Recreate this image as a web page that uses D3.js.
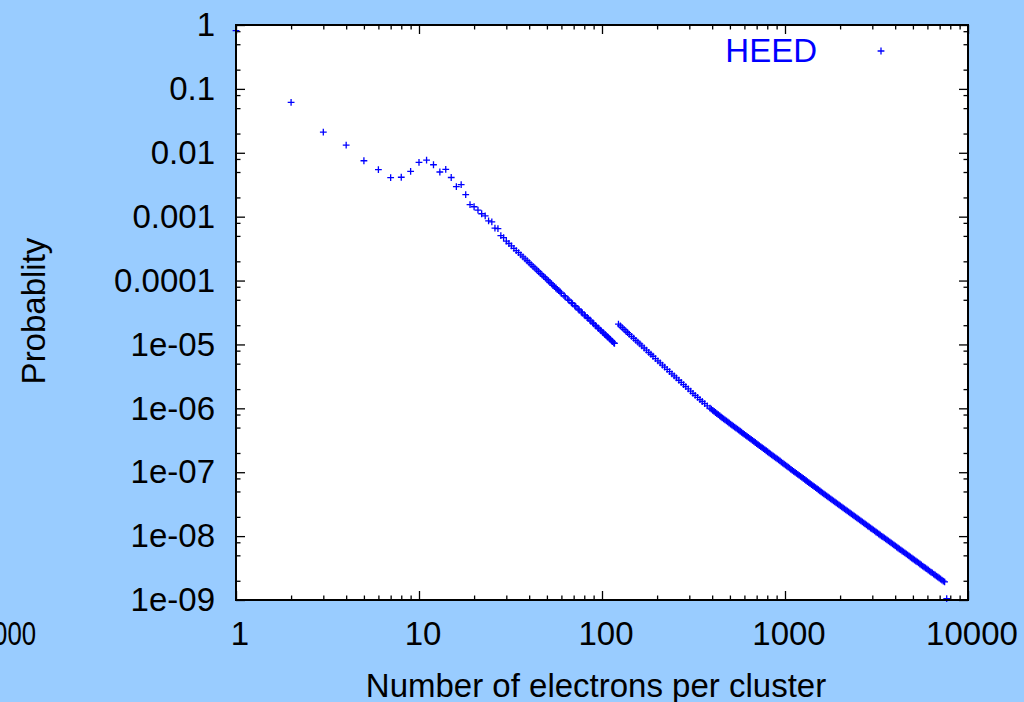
<!DOCTYPE html>
<html>
<head>
<meta charset="utf-8">
<script src="https://cdn.jsdelivr.net/npm/d3@7"></script>
<style>
  html, body { margin: 0; padding: 0; background: #99ccff; }
  svg { display: block; }
  text { font-family: "Liberation Sans", Arial, Helvetica, sans-serif; }
</style>
</head>
<body>
<svg id="chart" width="1024" height="702"></svg>
<script>
// ---- Data ----
const seriesName = "HEED";
const xLabel = "Number of electrons per cluster";
const yLabel = "Probablity";

const xTickValues = [1, 10, 100, 1000, 10000];
const xTickLabels = ["1", "10", "100", "1000", "10000"];
const yTickValues = [1e-9, 1e-8, 1e-7, 1e-6, 1e-5, 1e-4, 1e-3, 1e-2, 1e-1, 1];
const yTickLabels = ["1e-09", "1e-08", "1e-07", "1e-06", "1e-05", "0.0001", "0.001", "0.01", "0.1", "1"];
const xMinorMantissas = [2, 3, 4, 5, 6, 7, 8, 9];
const yMinorMantissas = [2, 5, 8];

// low-n branch (up to the step near 120 electrons)
const lowX = [1, 2, 3, 4, 5, 6, 7, 8, 9, 10, 11, 12, 13, 14, 15, 16, 17, 18, 19, 20,
  21, 22, 23, 24, 25, 26, 27, 28, 29, 30, 31, 32, 33, 34, 35, 36, 37, 38, 39, 40,
  41, 42, 43, 44, 45, 46, 47, 48, 49, 50, 51, 52, 53, 54, 55, 56, 57, 58, 59, 60,
  62, 63, 65, 66, 68, 69, 71, 72, 74, 75, 77, 78, 80, 81, 83, 84, 86, 87, 89, 90,
  92, 93, 95, 96, 98, 99, 101, 102, 104, 105, 107, 108, 110, 111, 113, 114, 116, 117];
const lowY = [0.815, 0.0617, 0.021, 0.0132, 0.0075, 0.00544, 0.00407, 0.00414, 0.00513, 0.0071,
  0.0077, 0.0065, 0.0050, 0.0055, 0.0041, 0.00295, 0.00317, 0.00221, 0.00154, 0.00143,
  0.00127, 0.00111, 0.00103, 0.000857, 0.00083, 0.00066, 0.000649, 0.000505, 0.000470, 0.000414,
  0.000380, 0.000348, 0.000320, 0.000295, 0.000273, 0.000253, 0.000235, 0.000218, 0.000204, 0.000190,
  1.78e-4, 1.66e-4, 1.565e-4, 1.47e-4, 1.385e-4, 1.30e-4, 1.23e-4, 1.16e-4, 1.10e-4, 1.04e-4,
  9.87e-5, 9.33e-5, 8.88e-5, 8.43e-5, 8.04e-5, 7.64e-5, 7.30e-5, 6.95e-5, 6.64e-5, 6.33e-5,
  5.81e-5, 5.55e-5, 5.11e-5, 4.89e-5, 4.52e-5, 4.34e-5, 4.03e-5, 3.87e-5, 3.60e-5, 3.46e-5,
  3.23e-5, 3.11e-5, 2.91e-5, 2.81e-5, 2.64e-5, 2.55e-5, 2.40e-5, 2.32e-5, 2.18e-5, 2.11e-5,
  1.99e-5, 1.93e-5, 1.82e-5, 1.77e-5, 1.68e-5, 1.63e-5, 1.54e-5, 1.50e-5, 1.43e-5, 1.39e-5,
  1.32e-5, 1.29e-5, 1.23e-5, 1.20e-5, 1.14e-5, 1.11e-5, 1.06e-5, 1.04e-5];

// high-n branch (after the step)
const highX = [123, 126, 129, 132, 135, 138, 141, 145, 149, 153, 157, 161, 165, 170, 175, 180, 185, 190,
  196, 202, 208, 214, 220, 227, 234, 241, 248, 255, 263, 271, 279, 287, 296, 305, 314, 323, 333,
  343, 353, 364, 376,
  389, 396, 403, 410, 417, 424, 432, 440, 447, 454, 462, 470, 479, 487, 495, 504, 513, 522, 531, 540,
  550, 559, 569, 579, 589, 599, 610, 620, 631, 642, 653, 664, 676, 688, 700, 712, 724, 737,
  750, 763, 776, 790, 804, 818, 832, 846, 861, 876, 891, 907, 923, 939, 955, 972, 989, 1006,
  1023, 1041, 1059, 1077, 1096, 1115, 1135, 1155, 1175, 1195, 1216, 1237, 1259, 1281, 1303, 1326,
  1349, 1372, 1396, 1420, 1445, 1470, 1496, 1522, 1549, 1576, 1603, 1631, 1660, 1689, 1718, 1748,
  1778, 1809, 1841, 1873, 1905, 1938, 1972, 2007, 2042, 2077, 2113, 2150, 2188, 2226, 2265, 2304,
  2344, 2385, 2427, 2469, 2512, 2556, 2600, 2646, 2692, 2739, 2786, 2835, 2884, 2934, 2985, 3037,
  3090, 3144, 3199, 3255, 3311, 3369, 3428, 3488, 3548, 3610, 3673, 3737, 3802, 3869, 3936, 4005,
  4074, 4145, 4217, 4291, 4365, 4442, 4519, 4598, 4677, 4759, 4842, 4927, 5012, 5100, 5188, 5279,
  5370, 5464, 5559, 5656, 5754, 5855, 5957, 6061, 6166, 6274, 6383, 6495, 6607, 6723, 6839, 6959,
  7079, 7203, 7328, 7450];
const highY = [2.08e-5, 1.95e-5, 1.83e-5, 1.72e-5, 1.62e-5, 1.53e-5, 1.44e-5, 1.34e-5, 1.25e-5, 1.16e-5,
  1.09e-5, 1.02e-5, 9.51e-6, 8.79e-6, 8.13e-6, 7.54e-6, 7.02e-6, 6.53e-6, 6.02e-6, 5.55e-6,
  5.14e-6, 4.76e-6, 4.43e-6, 4.07e-6, 3.76e-6, 3.47e-6, 3.22e-6, 2.99e-6, 2.75e-6, 2.54e-6,
  2.35e-6, 2.18e-6, 2.01e-6, 1.86e-6, 1.72e-6, 1.60e-6, 1.48e-6, 1.37e-6, 1.28e-6, 1.185e-6, 1.09e-6,
  1.01e-6, 9.70e-7, 9.31e-7, 8.96e-7, 8.60e-7, 8.27e-7, 7.95e-7, 7.66e-7, 7.36e-7, 7.10e-7,
  6.83e-7, 6.59e-7, 6.35e-7, 6.12e-7, 5.89e-7, 5.68e-7, 5.47e-7, 5.27e-7, 5.08e-7, 4.90e-7,
  4.72e-7, 4.55e-7, 4.38e-7, 4.22e-7, 4.07e-7, 3.92e-7, 3.78e-7, 3.64e-7, 3.51e-7, 3.38e-7,
  3.26e-7, 3.14e-7, 3.03e-7, 2.92e-7, 2.81e-7, 2.71e-7, 2.61e-7, 2.52e-7,
  2.43e-7, 2.34e-7, 2.25e-7, 2.17e-7, 2.09e-7, 2.01e-7, 1.94e-7, 1.87e-7, 1.80e-7, 1.74e-7,
  1.68e-7, 1.62e-7, 1.56e-7, 1.50e-7, 1.44e-7, 1.39e-7, 1.34e-7, 1.29e-7,
  1.25e-7, 1.20e-7, 1.16e-7, 1.11e-7, 1.07e-7, 1.03e-7, 9.98e-8, 9.62e-8, 9.27e-8, 8.94e-8,
  8.61e-8, 8.30e-8, 7.99e-8, 7.70e-8, 7.42e-8, 7.15e-8,
  6.89e-8, 6.64e-8, 6.40e-8, 6.17e-8, 5.95e-8, 5.73e-8, 5.52e-8, 5.32e-8, 5.13e-8, 4.94e-8,
  4.76e-8, 4.59e-8, 4.42e-8, 4.26e-8, 4.11e-8, 3.97e-8,
  3.83e-8, 3.69e-8, 3.56e-8, 3.43e-8, 3.31e-8, 3.19e-8, 3.08e-8, 2.97e-8, 2.87e-8, 2.77e-8,
  2.67e-8, 2.57e-8, 2.48e-8, 2.39e-8, 2.31e-8, 2.23e-8,
  2.15e-8, 2.07e-8, 2.00e-8, 1.93e-8, 1.86e-8, 1.79e-8, 1.73e-8, 1.67e-8, 1.61e-8, 1.55e-8,
  1.50e-8, 1.44e-8, 1.39e-8, 1.34e-8, 1.30e-8, 1.25e-8,
  1.21e-8, 1.16e-8, 1.12e-8, 1.08e-8, 1.04e-8, 1.00e-8, 9.70e-9, 9.36e-9, 9.03e-9, 8.71e-9,
  8.40e-9, 8.10e-9, 7.81e-9, 7.54e-9, 7.27e-9, 7.01e-9,
  6.76e-9, 6.52e-9, 6.29e-9, 6.07e-9, 5.85e-9, 5.65e-9, 5.45e-9, 5.26e-9, 5.07e-9, 4.89e-9,
  4.71e-9, 4.54e-9, 4.38e-9, 4.23e-9, 4.08e-9, 3.94e-9,
  3.80e-9, 3.66e-9, 3.53e-9, 3.40e-9, 3.28e-9, 3.17e-9, 3.06e-9, 2.95e-9, 2.84e-9, 2.74e-9,
  2.65e-9, 2.55e-9, 2.46e-9, 2.37e-9, 2.29e-9, 2.21e-9,
  2.13e-9, 2.05e-9, 1.98e-9, 1.92e-9];

// isolated last point at the bottom edge
const tailX = [7650];
const tailY = [1.05e-9];

// stray clipped label at the far left of the picture
const strayLabel = "10000";

// ---- Drawing ----
const svg = d3.select("#chart");
const W = 1024, H = 702;
const plot = { left: 236, right: 968, top: 25, bottom: 600 };
const FONT = 33;

svg.append("rect").attr("x", 0).attr("y", 0).attr("width", W).attr("height", H).attr("fill", "#99ccff");

const x = d3.scaleLog().domain([1, 10000]).range([plot.left, plot.right]);
const y = d3.scaleLog().domain([1e-9, 1]).range([plot.bottom, plot.top]);

svg.append("rect")
  .attr("x", plot.left).attr("y", plot.top)
  .attr("width", plot.right - plot.left).attr("height", plot.bottom - plot.top)
  .attr("fill", "#ffffff");

// minor tick values
const xMinors = [];
[1, 10, 100, 1000].forEach(d => xMinorMantissas.forEach(m => xMinors.push(d * m)));
const yMinors = [];
[1e-9, 1e-8, 1e-7, 1e-6, 1e-5, 1e-4, 1e-3, 1e-2, 1e-1].forEach(d => yMinorMantissas.forEach(m => yMinors.push(d * m)));

function drawAxis(axisGen, transform) {
  const g = svg.append("g").attr("transform", transform).call(axisGen);
  g.select(".domain").remove();
  g.selectAll(".tick line").attr("stroke", "#000").attr("stroke-width", 1.3);
  g.selectAll(".tick text").remove();
  return g;
}
const MAJ = 9, MIN = 4.5;
drawAxis(d3.axisBottom(x).tickValues(xTickValues).tickSize(-MAJ).tickFormat(""), `translate(0,${plot.bottom})`);
drawAxis(d3.axisBottom(x).tickValues(xMinors).tickSize(-MIN).tickFormat(""), `translate(0,${plot.bottom})`);
drawAxis(d3.axisTop(x).tickValues(xTickValues).tickSize(-MAJ).tickFormat(""), `translate(0,${plot.top})`);
drawAxis(d3.axisTop(x).tickValues(xMinors).tickSize(-MIN).tickFormat(""), `translate(0,${plot.top})`);
drawAxis(d3.axisLeft(y).tickValues(yTickValues).tickSize(-MAJ).tickFormat(""), `translate(${plot.left},0)`);
drawAxis(d3.axisLeft(y).tickValues(yMinors).tickSize(-MIN).tickFormat(""), `translate(${plot.left},0)`);
drawAxis(d3.axisRight(y).tickValues(yTickValues).tickSize(-MAJ).tickFormat(""), `translate(${plot.right},0)`);
drawAxis(d3.axisRight(y).tickValues(yMinors).tickSize(-MIN).tickFormat(""), `translate(${plot.right},0)`);

// tick labels
svg.append("g").selectAll("text").data(xTickValues).join("text")
  .attr("x", d => x(d) + 4).attr("y", 645)
  .attr("text-anchor", "middle").attr("font-size", FONT).attr("fill", "#000")
  .text((d, i) => xTickLabels[i]);

svg.append("g").selectAll("text").data(yTickValues).join("text")
  .attr("x", 215).attr("y", d => y(d)).attr("dy", "0.34em")
  .attr("text-anchor", "end").attr("font-size", FONT).attr("fill", "#000")
  .text((d, i) => yTickLabels[i]);

svg.append("text").attr("transform", "translate(36,645) scale(0.78,1)").attr("text-anchor", "end")
  .attr("font-size", FONT).attr("fill", "#000").text(strayLabel);

// axis titles
svg.append("text").attr("x", 596).attr("y", 697).attr("text-anchor", "middle")
  .attr("font-size", FONT).attr("fill", "#000").text(xLabel);
svg.append("text").attr("transform", "translate(45,311) rotate(-90)")
  .attr("text-anchor", "middle").attr("font-size", FONT).attr("fill", "#000").text(yLabel);

// data points ("+" markers)
const pts = [];
lowX.forEach((v, i) => pts.push([v, lowY[i]]));
highX.forEach((v, i) => pts.push([v, highY[i]]));
tailX.forEach((v, i) => pts.push([v, tailY[i]]));

const R = 3.4;
const plus = `M${-R},0H${R}M0,${-R}V${R}`;
svg.append("g").selectAll("path").data(pts).join("path")
  .attr("transform", d => `translate(${x(d[0])},${y(d[1])})`)
  .attr("d", plus)
  .attr("fill", "none").attr("stroke", "#0000ff").attr("stroke-width", 1.3);

// frame
svg.append("rect")
  .attr("x", plot.left).attr("y", plot.top)
  .attr("width", plot.right - plot.left).attr("height", plot.bottom - plot.top)
  .attr("fill", "none").attr("stroke", "#000").attr("stroke-width", 2);

// legend
svg.append("text").attr("x", 817).attr("y", 62).attr("text-anchor", "end")
  .attr("font-size", FONT).attr("fill", "#0000ff").text(seriesName);
svg.append("path").attr("transform", "translate(881,51)").attr("d", plus)
  .attr("fill", "none").attr("stroke", "#0000ff").attr("stroke-width", 1.3);
</script>
</body>
</html>
